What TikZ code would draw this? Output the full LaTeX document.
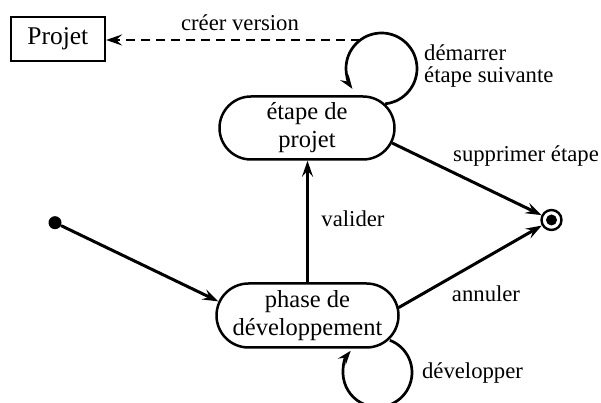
\documentclass[tikz,border=0pt]{standalone}
\usepackage{fontspec}
\setmainfont{Liberation Serif}
\usetikzlibrary{arrows.meta,shapes.misc,calc}
\begin{document}
\begin{tikzpicture}[x=1pt,y=1pt,
  state/.style={rounded rectangle, draw, line width=2.5pt,
    font=\fontsize{24.5}{28}\selectfont, align=center, inner sep=0pt},
  box/.style={draw, line width=2.6pt, font=\fontsize{25.5}{28}\selectfont, inner sep=0pt},
  arr/.style={line width=3pt, -{Stealth[length=16pt,width=11pt,inset=6pt]}},
  loopline/.style={line width=2.7pt, -{Stealth[length=14pt,width=10pt,inset=5pt]}},
  lbl/.style={font=\fontsize{22.7}{22}\selectfont, inner sep=0pt}]
\useasboundingbox (0,0) rectangle (601,403);
\node[box, minimum width=94pt, minimum height=44pt] (projet) at (57.8,364) {Projet};
\node[state, minimum width=175pt, minimum height=63pt] (etape) at (307,275) {étape de\\projet};
\node[state, minimum width=182pt, minimum height=64pt] (phase) at (307.5,87.5) {phase de\\développement};
\node[circle, fill, minimum size=13pt, inner sep=0pt] (init) at (55,180.3) {};
\node[circle, draw, line width=2.4pt, minimum size=20pt, inner sep=0pt] (final) at (551.5,183) {};
\node[circle, fill, minimum size=11pt, inner sep=0pt] (finaldot) at (final.center) {};
% connectors
\draw[arr] (init) -- (phase.171);
\draw[arr] (phase.north) -- (phase.north |- etape.south);
\draw[arr] (etape.-10) -- (final);
\draw[arr] (phase.5) -- (final);
% self loops
\draw[loopline] ($(etape.center)+(74.5,59.5)+(-84:35.5)$) arc[start angle=-84, end angle=215, radius=35.5];
\draw[loopline] ($(phase.center)+(70,-57)+(69:34.5)$) arc[start angle=69, end angle=-219, radius=34.5];
% dashed
\coordinate (dstart) at (360,363);
\draw[arr, line width=2.8pt, dash pattern=on 9pt off 6pt] (dstart) -- (dstart -| projet.east);
% labels
\node[lbl] (lcreer) at (240,380.7) {créer version};
\node[lbl, align=left, anchor=west] (ldem) at (424,337) {démarrer\\étape suivante};
\node[lbl] (lsupp) at (526,246.7) {supprimer étape};
\node[lbl] (lval) at (353,184) {valider};
\node[lbl] (lann) at (486,109) {annuler};
\node[lbl] (ldev) at (472.5,30) {développer};
\end{tikzpicture}
\end{document}
